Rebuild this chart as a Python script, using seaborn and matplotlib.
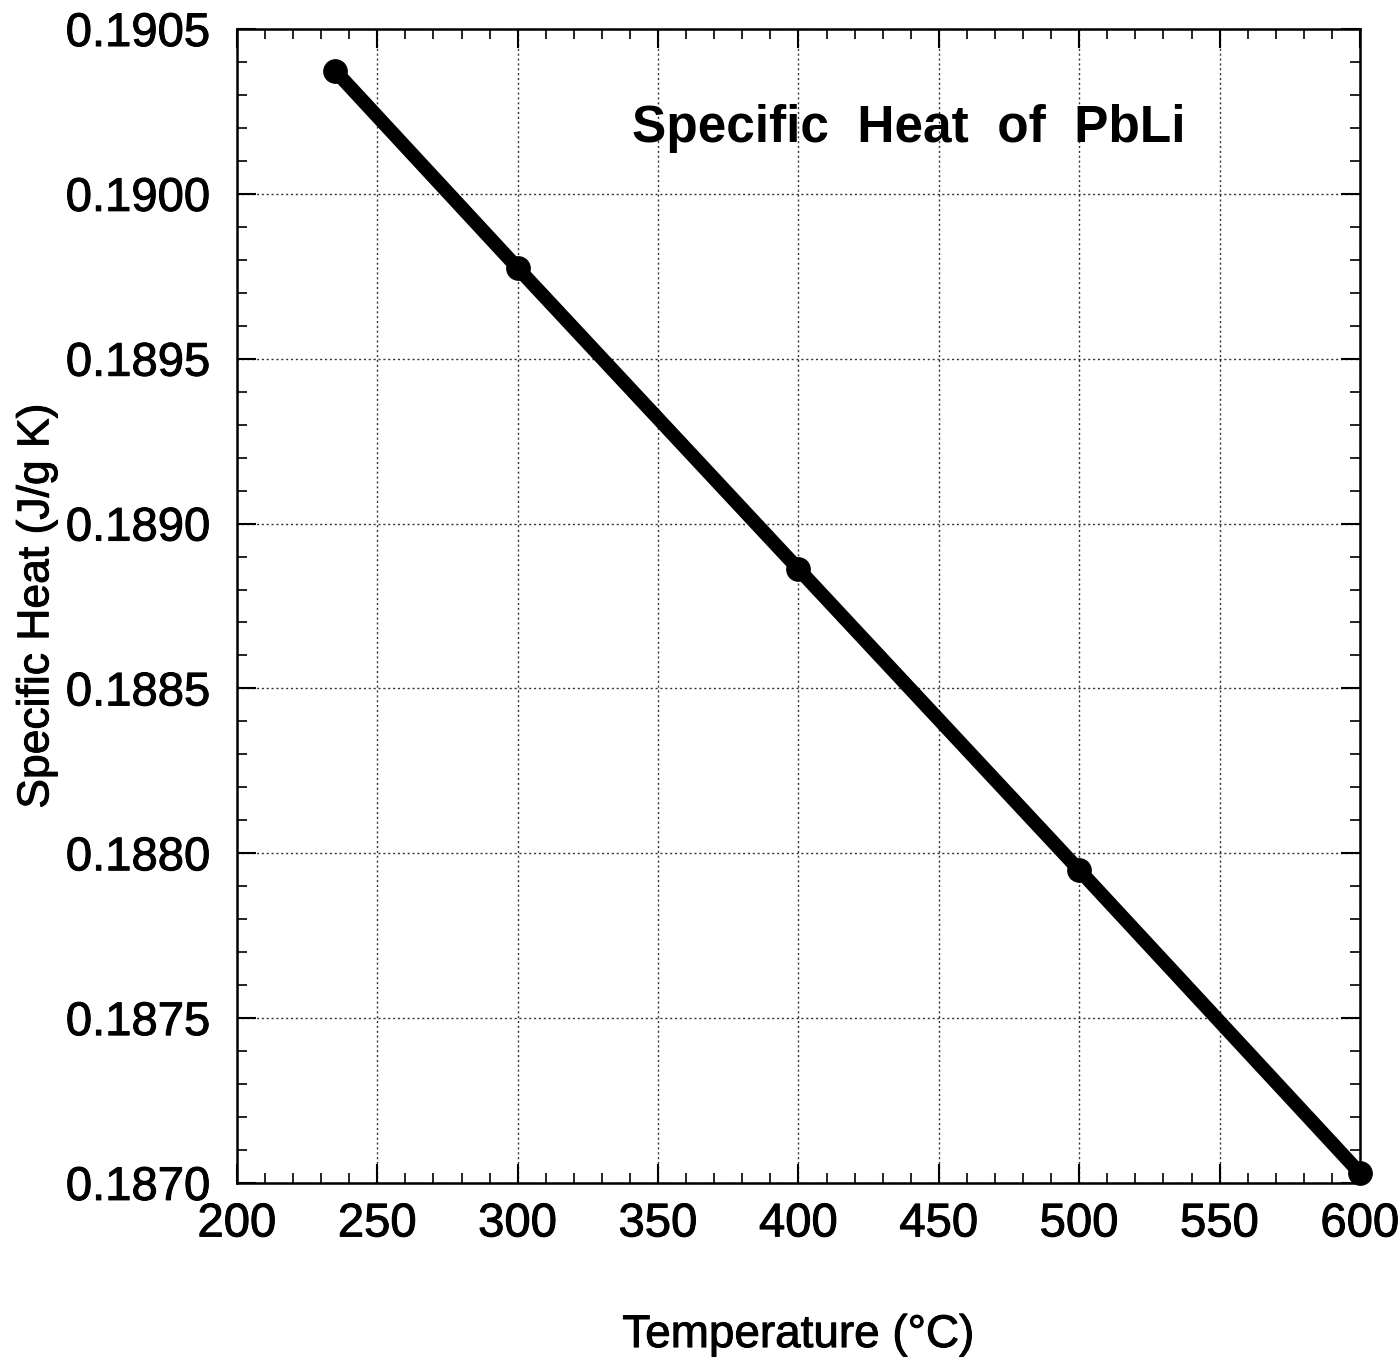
import matplotlib
matplotlib.use("Agg")
import matplotlib.pyplot as plt
import matplotlib.patheffects as pe
from matplotlib.ticker import MultipleLocator, FormatStrFormatter
import seaborn as sns
import pandas as pd

temperature_c = [235, 300, 400, 500, 600]
specific_heat = [0.190373, 0.189775, 0.188862, 0.187949, 0.187030]

sns.set_theme(style="white")
plt.rcParams['font.family'] = ['Liberation Sans', 'DejaVu Sans']
plt.rcParams['text.color'] = 'black'
plt.rcParams['axes.labelcolor'] = 'black'
plt.rcParams['xtick.color'] = 'black'
plt.rcParams['ytick.color'] = 'black'

df = pd.DataFrame({"T": temperature_c, "cp": specific_heat})

fig = plt.figure(figsize=(13.98, 13.63), dpi=100)
ax = fig.add_axes([0.1695, 0.1321, 0.8033, 0.8466])

sns.lineplot(data=df, x="T", y="cp", ax=ax, color="black", linewidth=10,
             marker="o", markersize=17, markeredgecolor="black",
             solid_capstyle="round", clip_on=False, zorder=5)

ax.set_xlim(200, 600)
ax.set_ylim(0.1870, 0.1905)
ax.xaxis.set_major_locator(MultipleLocator(50))
ax.xaxis.set_minor_locator(MultipleLocator(10))
ax.yaxis.set_major_locator(MultipleLocator(0.0005))
ax.yaxis.set_minor_locator(MultipleLocator(0.0001))
ax.yaxis.set_major_formatter(FormatStrFormatter("%.4f"))

ax.tick_params(which="both", direction="in", top=True, right=True,
               bottom=True, left=True, color="black")
ax.tick_params(which="major", length=14, width=1.5, labelsize=34)
ax.tick_params(axis="y", which="major", pad=19)
ax.tick_params(axis="x", which="major", pad=14)
ax.tick_params(which="minor", length=7, width=1.2)

heavy = [pe.withStroke(linewidth=0.7, foreground="black")]
for lab in ax.get_xticklabels() + ax.get_yticklabels():
    lab.set_path_effects(heavy)

ax.grid(True, which="major", linestyle=(0, (1.5, 2)), color="black",
        linewidth=1.0, alpha=0.8)
for s in ax.spines.values():
    s.set_color("black")
    s.set_linewidth(1.8)

ax.set_xlabel("Temperature (°C)", fontsize=33, labelpad=48,
              path_effects=heavy)
ax.set_ylabel("Specific Heat (J/g K)", fontsize=32, path_effects=heavy)
ax.yaxis.set_label_coords(-0.160, 0.5)

ax.text(0.352, 0.914, "Specific  Heat  of  PbLi", transform=ax.transAxes,
        fontsize=37, fontweight="bold", ha="left", va="center")

fig.savefig("out.png", dpi=100)
